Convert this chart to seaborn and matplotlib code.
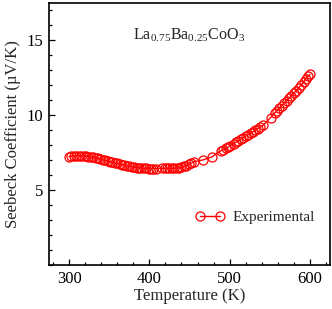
import matplotlib
matplotlib.use("Agg")
import matplotlib.pyplot as plt
import seaborn as sns
import pandas as pd
from matplotlib.ticker import MultipleLocator

temperature = [300, 303, 306, 309, 312, 315, 318, 321, 324, 327, 330, 333, 336, 339, 342, 345, 348, 351,
               354, 357, 360, 363, 366, 369, 372, 375, 378, 381, 384, 387, 390, 393, 396, 399, 402, 405, 408,
               416, 419, 422, 425, 428, 431, 434, 437, 440, 443, 446, 449, 452, 456,
               467, 478,
               489, 492, 495, 498, 501, 505, 508, 511, 514, 517, 520, 523, 526, 529, 532, 535, 538, 542,
               551, 556, 559, 562, 565, 568, 571, 574, 577, 580, 583, 586, 589, 592, 595, 598, 600]
seebeck = [7.22, 7.25, 7.27, 7.28, 7.28, 7.28, 7.27, 7.25, 7.22, 7.20, 7.17, 7.13, 7.10, 7.06, 7.02, 6.97, 6.93, 6.88,
           6.84, 6.80, 6.76, 6.72, 6.68, 6.64, 6.60, 6.57, 6.54, 6.51, 6.49, 6.47, 6.45, 6.44, 6.43, 6.42, 6.42, 6.42, 6.42,
           6.44, 6.44, 6.44, 6.44, 6.44, 6.44, 6.45, 6.47, 6.50, 6.56, 6.62, 6.70, 6.78, 6.88,
           7.00, 7.20,
           7.60, 7.68, 7.76, 7.85, 7.95, 8.08, 8.18, 8.28, 8.38, 8.48, 8.58, 8.68, 8.78, 8.88, 8.98, 9.08, 9.18, 9.32,
           9.82, 10.10, 10.28, 10.45, 10.62, 10.80, 10.95, 11.10, 11.28, 11.45, 11.62, 11.80, 12.00, 12.20, 12.40, 12.58, 12.70]
series_label = "Experimental"
x_ticks = [300, 400, 500, 600]
y_ticks = [5, 10, 15]

sns.set_theme(style="ticks")
plt.rcParams['font.family'] = ['Liberation Serif', 'DejaVu Serif']
plt.rcParams['mathtext.fontset'] = 'custom'
plt.rcParams['mathtext.rm'] = 'Liberation Serif'
plt.rcParams['mathtext.it'] = 'Liberation Serif:italic'

df = pd.DataFrame({"T": temperature, "S": seebeck})

fig = plt.figure(figsize=(3.32, 3.09), dpi=100)
ax = fig.add_axes([0.1476, 0.1424, 0.8464, 0.848])
sns.lineplot(data=df, x="T", y="S", ax=ax, color="red", linewidth=1,
             marker="o", markersize=6.5, markerfacecolor="none", markeredgecolor="red",
             markeredgewidth=0.9, label=series_label, sort=False)

ax.set_xlim(275, 625)
ax.set_ylim(0, 17.45)
ax.set_xticks(x_ticks)
ax.set_yticks(y_ticks)
ax.xaxis.set_minor_locator(MultipleLocator(20))
ax.yaxis.set_minor_locator(MultipleLocator(1))
ax.tick_params(which="both", direction="in", top=False, right=False, labelsize=12, colors="black")
ax.tick_params(which="major", length=4, width=0.9, pad=4)
ax.tick_params(which="minor", length=2.5, width=0.9)
for s in ax.spines.values():
    s.set_linewidth(1.2)
    s.set_color("black")

ax.set_xlabel("Temperature (K)", fontsize=12, labelpad=1)
ax.set_ylabel("Seebeck Coefficient (\u00b5V/K)", fontsize=12, labelpad=4)

ax.text(0.5, 0.875, r"La$_{0.75}$Ba$_{0.25}$CoO$_3$", transform=ax.transAxes,
        ha="center", va="center", fontsize=11.5)

leg = ax.legend(loc="center left", bbox_to_anchor=(0.5, 0.183), frameon=False, fontsize=11,
                numpoints=2, handlelength=1.9, handletextpad=0.5, borderaxespad=0)

fig.savefig("out.png", dpi=100)
